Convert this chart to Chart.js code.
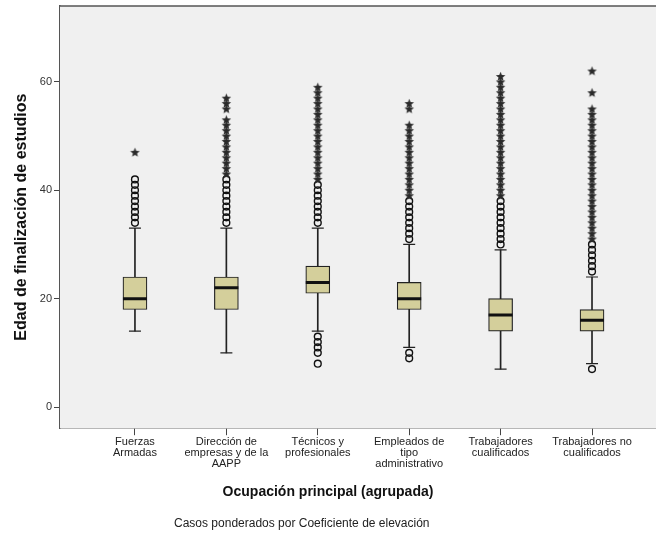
<!DOCTYPE html>
<html>
<head>
<meta charset="utf-8">
<script src="https://cdn.jsdelivr.net/npm/chart.js@4/dist/chart.umd.min.js"></script>
<style>
  body{margin:0;background:#fff;}
</style>
</head>
<body>
<canvas id="box" width="656" height="535"></canvas>
<script>
//----- data -----//
const categories = [
  ['Fuerzas','Armadas'],
  ['Dirección de','empresas y de la','AAPP'],
  ['Técnicos y','profesionales'],
  ['Empleados de','tipo','administrativo'],
  ['Trabajadores','cualificados'],
  ['Trabajadores no','cualificados']
];
const whiskerLow  = [14, 10, 14, 11,  7,  8];
const q1          = [18, 18, 21, 18, 14, 14];
const median      = [20, 22, 23, 20, 17, 16];
const q3          = [24, 24, 26, 23, 20, 18];
const whiskerHigh = [33, 33, 33, 30, 29, 24];
// outliers (circles) above and below the whiskers
const circlesHigh = [
  [34,35,36,37,38,39,40,41,42],
  [34,35,36,37,38,39,40,41,42],
  [34,35,36,37,38,39,40,41],
  [31,32,33,34,35,36,37,38],
  [30,31,32,33,34,35,36,37,38],
  [25,26,27,28,29,30]
];
const circlesLow = [[], [], [13,12,11,10,8], [10,9], [], [7]];
// extremes (stars)
const extremes = [
  [47],
  [43,44,45,46,47,48,49,50,51,52,53,55,56,57],
  [42,43,44,45,46,47,48,49,50,51,52,53,54,55,56,57,58,59],
  [39,40,41,42,43,44,45,46,47,48,49,50,51,52,55,56],
  [39,40,41,42,43,44,45,46,47,48,49,50,51,52,53,54,55,56,57,58,59,60,61],
  [31,32,33,34,35,36,37,38,39,40,41,42,43,44,45,46,47,48,49,50,51,52,53,54,55,58,62]
];
const yTicks = [0, 20, 40, 60];
const yTitle = 'Edad de finalización de estudios';
const xTitle = 'Ocupación principal (agrupada)';
const footnote = 'Casos ponderados por Coeficiente de elevación';

//----- styles -----//
const FONT = "'Liberation Sans', Arial, sans-serif";
const boxFill = '#d4cf9b';
const ink = '#222';

//star marker like the SPSS one
const star = document.createElement('canvas');
star.width = 11; star.height = 11;
(function(){
  const c = star.getContext('2d');
  c.beginPath();
  for(let k=0;k<10;k++){
    const r = k%2==0 ? 5 : 2.2;
    const a = -Math.PI/2 + k*Math.PI/5;
    const px = 5.5 + r*Math.cos(a), py = 5.8 + r*Math.sin(a);
    k==0 ? c.moveTo(px,py) : c.lineTo(px,py);
  }
  c.closePath();
  c.fillStyle = '#2a2a2a';
  c.fill();
})();

//----- build points from the arrays -----//
let whiskerData=[], boxData=[], medianData=[], capData=[], circleData=[], starData=[];
for(let i=0;i<categories.length;i++){
  whiskerData.push({x:i, y:[whiskerLow[i], whiskerHigh[i]]});
  boxData.push({x:i, y:[q1[i], q3[i]]});
  medianData.push({x:i, y:median[i]});
  capData.push({x:i, y:whiskerLow[i]});
  capData.push({x:i, y:whiskerHigh[i]});
  circlesHigh[i].forEach(v=>circleData.push({x:i, y:v}));
  circlesLow[i].forEach(v=>circleData.push({x:i, y:v}));
  extremes[i].forEach(v=>starData.push({x:i, y:v}));
}

//plot background, top frame line and the footnote
const frame = {
  id:'frame',
  beforeDatasetsDraw(chart){
    const {ctx, chartArea:a} = chart;
    ctx.save();
    ctx.fillStyle = '#f0f0f0';
    ctx.fillRect(a.left, a.top, a.right-a.left, a.bottom-a.top);
    ctx.strokeStyle = '#555';
    ctx.lineWidth = 1.5;
    ctx.beginPath();
    ctx.moveTo(a.left, a.top); ctx.lineTo(a.right, a.top);
    ctx.stroke();
    ctx.restore();
  },
  afterDraw(chart){
    const ctx = chart.ctx;
    ctx.save();
    ctx.font = '12px ' + FONT;
    ctx.fillStyle = '#222';
    ctx.textAlign = 'center';
    ctx.textBaseline = 'middle';
    ctx.fillText(footnote, chart.width*0.46, chart.height-11);
    ctx.restore();
  }
};

new Chart(document.getElementById('box'), {
  type: 'bar',
  data: {
    datasets: [
      {data: whiskerData, backgroundColor: ink, barThickness: 1, grouped: false, order: 5},
      {data: boxData, backgroundColor: boxFill, borderColor: ink, borderWidth: 1.2,
       borderSkipped: false, barThickness: 24, grouped: false, order: 4},
      {type: 'scatter', data: capData, pointStyle: 'line', pointRadius: 6,
       borderColor: ink, borderWidth: 1.2, order: 3},
      {type: 'scatter', data: medianData, pointStyle: 'line', pointRadius: 12,
       borderColor: '#111', borderWidth: 3, order: 2},
      {type: 'scatter', data: circleData, pointStyle: 'circle', pointRadius: 3.4,
       borderColor: '#111', backgroundColor: 'rgba(0,0,0,0)', borderWidth: 1.4, order: 1},
      {type: 'scatter', data: starData, pointStyle: star, order: 0}
    ]
  },
  options: {
    responsive: false,
    animation: false,
    layout: {autoPadding: false, padding: {left: 0, top: 6, right: 0, bottom: 34}},
    plugins: {
      legend: {display: false},
      tooltip: {enabled: false},
      title: {
        display: true, position: 'bottom', text: xTitle, color: '#111',
        font: {family: FONT, size: 14, weight: 'bold'},
        padding: {top: 6, bottom: 0}
      }
    },
    scales: {
      x: {
        type: 'linear', min: -0.82, max: 5.7, offset: false,
        afterBuildTicks: s => { s.ticks = categories.map((c,i)=>({value:i})); },
        afterFit: s => { s.height = 50; s.paddingLeft = 0; s.paddingRight = 0; },
        ticks: {
          autoSkip: false, maxRotation: 0, padding: 1, color: '#222',
          font: {family: FONT, size: 11, lineHeight: 1.0},
          callback: v => categories[v]
        },
        grid: {display: true, drawOnChartArea: false, drawTicks: true, tickLength: 7, color: '#444', offset: false},
        border: {display: true, color: '#555', width: 1.5}
      },
      y: {
        type: 'linear', min: -3.9, max: 74,
        afterBuildTicks: s => { s.ticks = yTicks.map(v=>({value:v})); },
        afterFit: s => { s.width = 60; s.paddingTop = 0; s.paddingBottom = 0; },
        ticks: {padding: 2, color: '#333', font: {family: FONT, size: 11}},
        grid: {display: true, drawOnChartArea: false, drawTicks: true, tickLength: 6, color: '#444'},
        border: {display: true, color: '#555', width: 1.5},
        title: {
          display: true, text: yTitle, color: '#111',
          font: {family: FONT, size: 16, weight: 'bold'},
          padding: {top: 12, bottom: 0}
        }
      }
    }
  },
  plugins: [frame]
});
</script>
</body>
</html>
